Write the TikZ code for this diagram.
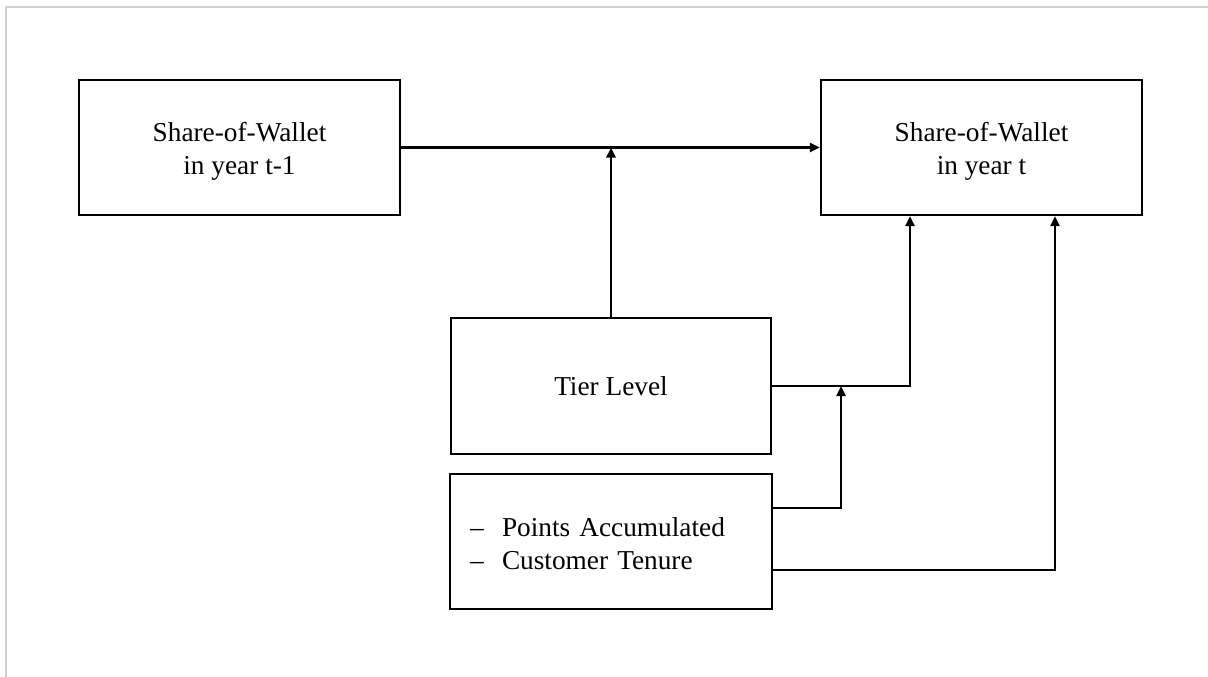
\documentclass[tikz,border=0pt]{standalone}
\usepackage{fontspec}
\setmainfont{Liberation Serif}
\usetikzlibrary{arrows.meta,calc}
\newcommand{\twoline}[2]{\raisebox{-4pt}[\height][\depth]{\begin{tabular}{@{}c@{}}#1\\#2\end{tabular}}}
\begin{document}
\begin{tikzpicture}[x=1pt,y=-1pt,
  box/.style={draw,line width=2.4pt,rectangle,minimum width=321pt,minimum height=135pt,inner sep=0pt,align=center,font=\fontsize{27.3}{33}\selectfont},
  conn/.style={line width=2.4pt,-{Triangle[length=10pt,width=9pt]}},
  frameline/.style={draw=black!18,line width=2pt}]
\useasboundingbox (0,0) rectangle (1208,677);
\draw[frameline] (6,677) -- (6,7) -- (1208,7);
\node[box] (prev) at (239.5,147.5) {\twoline{Share-of-Wallet}{in year t-1}};
\node[box] (curr) at (981.5,147.5) {\twoline{Share-of-Wallet}{in year t}};
\node[box,minimum width=320pt,minimum height=136pt] (tier) at (611,386) {Tier Level};
\node[box,minimum width=322pt,align=left,text width=282pt,inner xsep=20pt] (pts) at (611,541.5)
  {\raisebox{-5pt}[\height][\depth]{\begin{tabular}{@{}l@{}}\makebox[32pt][l]{–}Points Accumulated\\\makebox[32pt][l]{–}Customer Tenure\end{tabular}}};
\coordinate (j) at (841,386);
\draw[conn] (prev.east) -- (curr.west);
\draw[conn] (tier.north) -- (tier.north |- prev.east);
\draw[conn] (tier.east) -| ([xshift=-71.5pt]curr.south);
\draw[conn] ([yshift=33.5pt]pts.east) -| (j);
\draw[conn] ([yshift=-28.5pt]pts.east) -| ([xshift=73.5pt]curr.south);
\end{tikzpicture}
\end{document}
